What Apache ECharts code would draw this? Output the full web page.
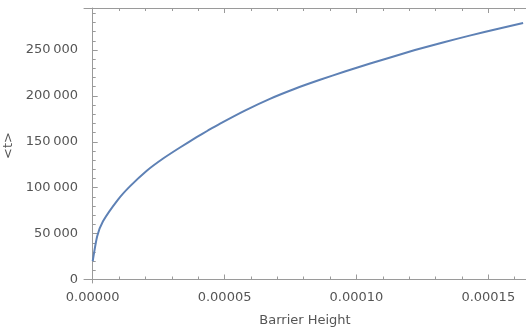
<!DOCTYPE html>
<html>
<head>
    <meta charset="utf-8">
    <title>Barrier Height</title>
    <script src="https://cdn.jsdelivr.net/npm/echarts@6.0.0/dist/echarts.min.js"></script>
</head>
<body style="margin:0">
    <div id="main" style="width: 526px; height: 331px;"></div>

    <script>
        // values
        var barrierHeight = [0, 0.0000017, 0.0000039, 0.0000096, 0.0000141, 0.0000205, 0.0000267,
            0.0000331, 0.0000394, 0.0000437, 0.0000483, 0.0000577, 0.0000672, 0.0000767,
            0.0000862, 0.0000956, 0.0001052, 0.0001122, 0.0001222, 0.0001328, 0.0001433,
            0.0001538, 0.0001632];
        var meanT = [19900, 47000, 63400, 87000, 101400, 118500, 131800,
            143800, 155000, 162300, 169800, 184000, 196800, 207800,
            217500, 226500, 235200, 241300, 249900, 258200, 265900,
            273000, 279300];

        var xMajor = [0, 0.00005, 0.0001, 0.00015];
        var xMinor = [0.00001, 0.00002, 0.00003, 0.00004, 0.00006, 0.00007, 0.00008, 0.00009,
            0.00011, 0.00012, 0.00013, 0.00014, 0.00016];
        var yMajor = [0, 50000, 100000, 150000, 200000, 250000];
        var yMinor = [10000, 20000, 30000, 40000, 60000, 70000, 80000, 90000,
            110000, 120000, 130000, 140000, 160000, 170000, 180000, 190000,
            210000, 220000, 230000, 240000, 260000, 270000, 280000, 290000];

        var xMin = -0.0000033, xMax = 0.0001643;
        var yMin = -3800, yMax = 295700;

        var axisColor = '#9a9a9a';
        var textColor = '#555';
        var font = 'DejaVu Sans';

        function groupDigits(v) {
            return String(v).replace(/\B(?=(\d{3})+(?!\d))/g, '\u2009');
        }

        // an axis that only draws (inward) ticks at the given values
        function tickAxis(kind, pos, vals, len, withLine) {
            return {
                type: 'value',
                position: pos,
                min: kind === 'x' ? xMin : yMin,
                max: kind === 'x' ? xMax : yMax,
                axisLine: { show: withLine, lineStyle: { color: axisColor, width: 1 } },
                axisTick: { show: true, inside: true, length: len, customValues: vals,
                    lineStyle: { color: axisColor } },
                axisLabel: { show: false },
                splitLine: { show: false }
            };
        }

        var chart = echarts.init(document.getElementById('main'));

        var xBottom = tickAxis('x', 'bottom', xMajor, 5, true);
        xBottom.axisLabel = {
            show: true, customValues: xMajor, color: textColor, fontFamily: font, fontSize: 13, margin: 8,
            formatter: function (v) { return v.toFixed(5); }
        };
        xBottom.name = 'Barrier Height';
        xBottom.nameLocation = 'middle';
        xBottom.nameGap = 31;
        xBottom.nameTextStyle = { color: textColor, fontFamily: font, fontSize: 13 };

        var yLeft = tickAxis('y', 'left', yMajor, 5, true);
        yLeft.axisLabel = {
            show: true, customValues: yMajor, color: textColor, fontFamily: font, fontSize: 13, margin: 6,
            formatter: groupDigits
        };
        yLeft.name = '<t>';
        yLeft.nameLocation = 'middle';
        yLeft.nameRotate = 90;
        yLeft.nameGap = 64;
        yLeft.nameTextStyle = { color: textColor, fontFamily: font, fontSize: 13 };

        var option = {
            animation: false,
            grid: { left: 84, right: 0, top: 8, bottom: 48, outerBoundsMode: 'none' },
            xAxis: [
                xBottom,
                tickAxis('x', 'bottom', xMinor, 3, false),
                tickAxis('x', 'top', xMajor, 5, true),
                tickAxis('x', 'top', xMinor, 3, false)
            ],
            yAxis: [
                yLeft,
                tickAxis('y', 'left', yMinor, 3, false)
            ],
            series: [
                {
                    type: 'line',
                    xAxisIndex: 0,
                    yAxisIndex: 0,
                    data: barrierHeight.map(function (x, i) { return [x, meanT[i]]; }),
                    showSymbol: false,
                    smooth: 0.2,
                    lineStyle: { color: '#5E81B5', width: 2 },
                    itemStyle: { color: '#5E81B5' }
                }
            ]
        };

        chart.setOption(option);
    </script>
</body>
</html>
